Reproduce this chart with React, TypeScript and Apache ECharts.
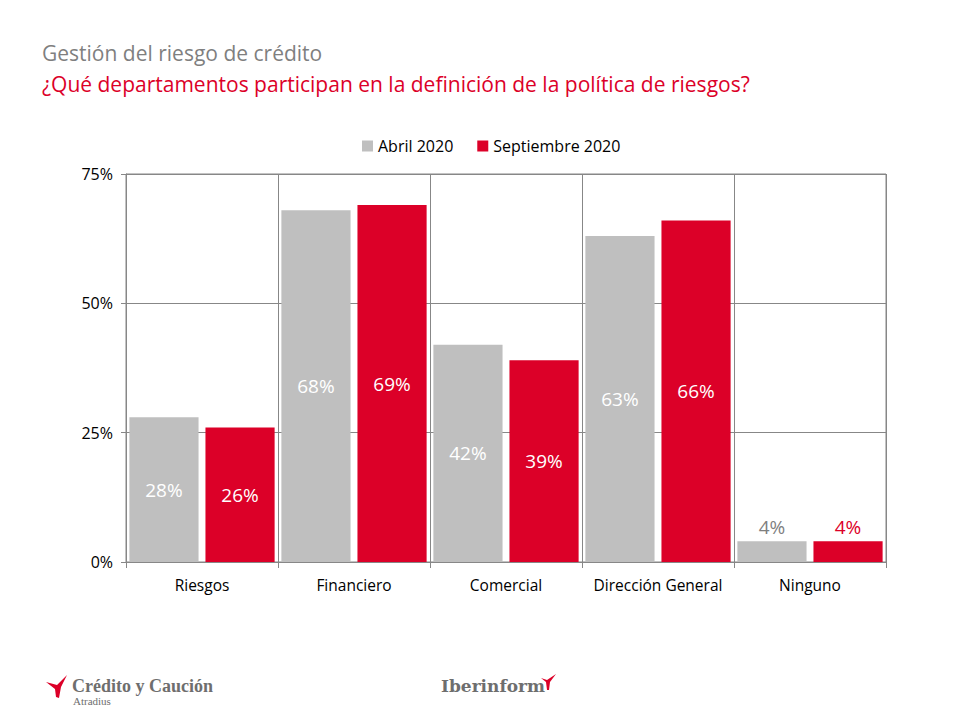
import React, { useEffect, useRef } from "react";
import * as echarts from "echarts";

const categories = ["Riesgos", "Financiero", "Comercial", "Dirección General", "Ninguno"];
const abril2020 = [28, 68, 42, 63, 4];
const septiembre2020 = [26, 69, 39, 66, 4];
const seriesNames = ["Abril 2020", "Septiembre 2020"];
const yTicks = [0, 25, 50, 75];

const GRAY = "#BFBFBF";
const RED = "#DC0028";
const FONT = "'Open Sans', 'Noto Sans', sans-serif";

function buildData(values: number[], color: string) {
  return values.map((v) =>
    v < 10
      ? { value: v, label: { position: "top", color, distance: 5 } }
      : { value: v }
  );
}

export default function App() {
  const ref = useRef<HTMLDivElement>(null);
  useEffect(() => {
    if (!ref.current) return;
    const chart = echarts.init(ref.current, null, { renderer: "svg" });
    const label = {
      show: true,
      position: "inside",
      formatter: "{c}%",
      color: "#ffffff",
      fontSize: 19,
      fontFamily: FONT,
    };
    chart.setOption({
      animation: false,
      backgroundColor: "#ffffff",
      title: [
        {
          text: "Gestión del riesgo de crédito",
          left: 37,
          top: 37,
          textStyle: { color: "#7F7F7F", fontSize: 21, fontWeight: "normal", fontFamily: FONT },
        },
        {
          text: "¿Qué departamentos participan en la definición de la política de riesgos?",
          left: 37,
          top: 68,
          textStyle: { color: RED, fontSize: 21, fontWeight: "normal", fontFamily: FONT },
        },
      ],
      legend: {
        data: seriesNames,
        top: 133,
        left: 357,
        itemWidth: 11,
        itemHeight: 11,
        itemGap: 24,
        icon: "rect",
        textStyle: { color: "#000", fontSize: 16, fontFamily: FONT },
      },
      grid: {
        left: 126,
        right: 74,
        top: 174,
        bottom: 156,
        show: true,
        borderColor: "#878787",
        borderWidth: 1,
      },
      xAxis: {
        type: "category",
        data: categories,
        axisLine: { lineStyle: { color: "#878787" } },
        axisTick: { show: true, length: 6, lineStyle: { color: "#878787" } },
        splitLine: { show: true, lineStyle: { color: "#878787" } },
        axisLabel: { color: "#000", fontSize: 15.5, fontFamily: FONT, margin: 15, interval: 0 },
      },
      yAxis: {
        type: "value",
        min: yTicks[0],
        max: yTicks[yTicks.length - 1],
        interval: 25,
        axisLine: { show: true, lineStyle: { color: "#878787" } },
        axisTick: { show: true, length: 5, lineStyle: { color: "#878787" } },
        splitLine: { show: true, lineStyle: { color: "#878787" } },
        axisLabel: { color: "#000", fontSize: 16, fontFamily: FONT, formatter: "{value}%", margin: 13 },
      },
      series: [
        {
          name: seriesNames[0],
          type: "bar",
          data: buildData(abril2020, "#7F7F7F"),
          itemStyle: { color: GRAY },
          barWidth: "45.5%",
          barGap: "10%",
          label,
        },
        {
          name: seriesNames[1],
          type: "bar",
          data: buildData(septiembre2020, RED),
          itemStyle: { color: RED },
          barWidth: "45.5%",
          label,
        },
      ],
      graphic: [
        {
          type: "polygon",
          shape: { points: [[46, 682], [57, 685], [67, 675], [61, 687], [59, 698], [56, 697], [55, 689]] },
          style: { fill: RED },
        },
        {
          type: "text",
          x: 72,
          y: 677,
          style: { text: "Crédito y Caución", fill: "#6E6E6E", font: "bold 18px 'Liberation Serif', serif" },
        },
        {
          type: "text",
          x: 73,
          y: 695,
          style: { text: "Atradius", fill: "#6E6E6E", font: "11px 'Liberation Serif', serif" },
        },
        {
          type: "text",
          x: 441,
          y: 677,
          style: { text: "Iberinform", fill: "#6E6E6E", font: "bold 17px 'DejaVu Serif', serif" },
        },
        {
          type: "polygon",
          shape: { points: [[541, 678], [547, 680], [556, 674], [550, 682], [549, 690], [547, 690], [546, 682]] },
          style: { fill: RED },
        },
      ],
    });
    return () => chart.dispose();
  }, []);
  return (
    <div
      ref={ref}
      style={{ position: "absolute", left: 0, top: 0, width: 960, height: 718 }}
    />
  );
}
